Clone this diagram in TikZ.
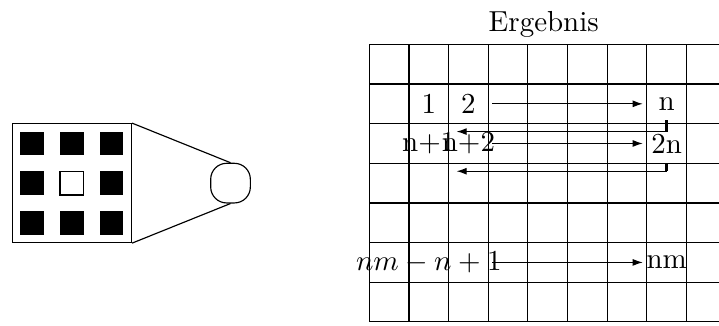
\documentclass[tikz,border=0pt]{standalone}
\usetikzlibrary{arrows.meta}
\begin{document}
\begin{tikzpicture}[x=0.481cm, y=0.481cm,
  mask/.style={draw, minimum size=1.443cm, inner sep=0pt},
  lens/.style={draw, rounded corners=5.5pt, minimum size=0.481cm, inner sep=0pt},
  arrow/.style={-{Latex[length=3.5pt,width=2.4pt]}},
  tick/.style={line width=1.1pt},
  fwd/.style={arrow, shorten <=0.289cm, shorten >=0.289cm}
]
\useasboundingbox (-9.314,-0.103) rectangle (8.820,8.119);
\clip (-9.314,-0.103) rectangle (8.820,8.119);

% mask with 3x3 holes
\node[mask] (mask) at (-7.5,3.5) {};
\foreach \i in {0,1,2}
  \foreach \j in {0,1,2}
    \fill (-8.8+\i,2.2+\j) rectangle ++(0.6,0.6);
\filldraw[fill=white] (-7.8,3.2) rectangle ++(0.6,0.6);

\node[lens] (lens) at (-3.5,3.5) {};
\draw (mask.north east) -- (lens.north);
\draw (mask.south east) -- (lens.south);

% result grid
\draw[step=1] (0,0) grid (9,7);
\node (title) at (4.4,7.5) {Ergebnis};

\node (c1) at (1.5,5.5) {1};
\node (c2) at (2.5,5.5) {2};
\node (cn) at (7.5,5.5) {n};
\node (cn1) at (1.5,4.5) {n+1};
\node (cn2) at (2.5,4.5) {n+2};
\node (c2n) at (7.5,4.5) {2n};
\node (cnm1) at (1.5,1.5) {$nm-n+1$};
\node (cnm) at (7.5,1.5) {nm};

\coordinate (back1) at (2.2,4.8);
\coordinate (back2) at (2.2,3.8);

\draw[fwd] (c2.center) -- (cn.center);
\draw[fwd] (cn2.center) -- (c2n.center);
\draw[arrow, shorten <=0.77cm, shorten >=0.289cm] (cnm1.center) -- (cnm.center);

\draw[tick] (cn.south) -- (cn.south |- back1);
\draw[arrow] (cn.south |- back1) -- (back1);
\draw[tick] (c2n.south) -- (c2n.south |- back2);
\draw[arrow] (c2n.south |- back2) -- (back2);
\end{tikzpicture}
\end{document}
